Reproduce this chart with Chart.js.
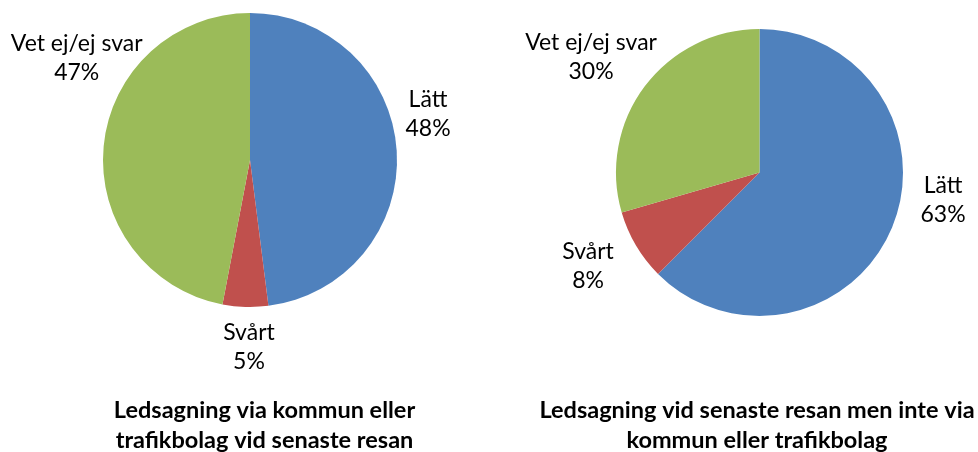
<!DOCTYPE html>
<html>
<head>
<meta charset="utf-8">
<script src="https://cdn.jsdelivr.net/npm/chart.js@4"></script>
<style>
  html, body { margin: 0; padding: 0; background: #fff; }
  #wrap { position: relative; width: 978px; height: 452px; }
  .box { position: absolute; top: 0; width: 489px; height: 452px; }
</style>
</head>
<body>
<div id="wrap">
  <div class="box" style="left:0"><canvas id="pieLeft"></canvas></div>
  <div class="box" style="left:489px"><canvas id="pieRight"></canvas></div>
</div>
<script>
// data
const categories = ["Lätt", "Svårt", "Vet ej/ej svar"];
const leftValues = [48, 5, 47];
const rightValues = [62.5, 8, 29.5];
const leftTitle = ["Ledsagning via kommun eller", "trafikbolag vid senaste resan"];
const rightTitle = ["Ledsagning vid senaste resan men inte via", "kommun eller trafikbolag"];

const sliceColors = ["#4F81BD", "#C0504D", "#9BBB59"];
const labelFont = "23px Lato";
const titleFont = "bold 23.5px Lato";

// draws "name / pct" labels outside the slices and the two-line caption below
const pieText = {
    id: "pieText",
    afterDatasetsDraw(chart, args, opts) {
        const ctx = chart.ctx;
        const first = chart.getDatasetMeta(0).data[0];
        const cx = first.x, cy = first.y, r = first.outerRadius;
        const values = chart.data.datasets[0].data;
        const total = values.reduce((a, b) => a + b, 0);

        ctx.save();
        ctx.fillStyle = "#000";
        ctx.textAlign = "center";
        ctx.textBaseline = "alphabetic";

        ctx.font = labelFont;
        chart.data.labels.forEach((name, i) => {
            const x = cx + opts.offsets[i][0] * r;
            const y = cy + opts.offsets[i][1] * r;
            const pct = Math.round(values[i] / total * 100) + "%";
            ctx.fillText(name, x, y - 14.5 + 8);
            ctx.fillText(pct, x, y + 14.5 + 8);
        });

        ctx.font = titleFont;
        opts.title.forEach((line, i) => {
            ctx.fillText(line, opts.titleX, opts.titleY + i * 29.5);
        });
        ctx.restore();
    }
};

function makePie(id, values, title, padding, offsets, titleX) {
    return new Chart(document.getElementById(id), {
        type: "pie",
        data: {
            labels: categories,
            datasets: [{
                data: values,
                backgroundColor: sliceColors,
                borderWidth: 0
            }]
        },
        options: {
            responsive: true,
            maintainAspectRatio: false,
            animation: false,
            layout: { padding: padding },
            plugins: {
                legend: { display: false },
                tooltip: { enabled: false },
                pieText: { offsets: offsets, title: title, titleX: titleX, titleY: 418 }
            }
        },
        plugins: [pieText]
    });
}

makePie("pieLeft", leftValues, leftTitle,
    { left: 103, right: 92, top: 13, bottom: 145 },
    [[1.211, -0.316], [-0.007, 1.269], [-1.179, -0.70]], 264.5);

makePie("pieRight", rightValues, rightTitle,
    { left: 127, right: 75, top: 29, bottom: 136 },
    [[1.279, 0.185], [-1.195, 0.645], [-1.174, -0.807]], 268);
</script>
</body>
</html>
